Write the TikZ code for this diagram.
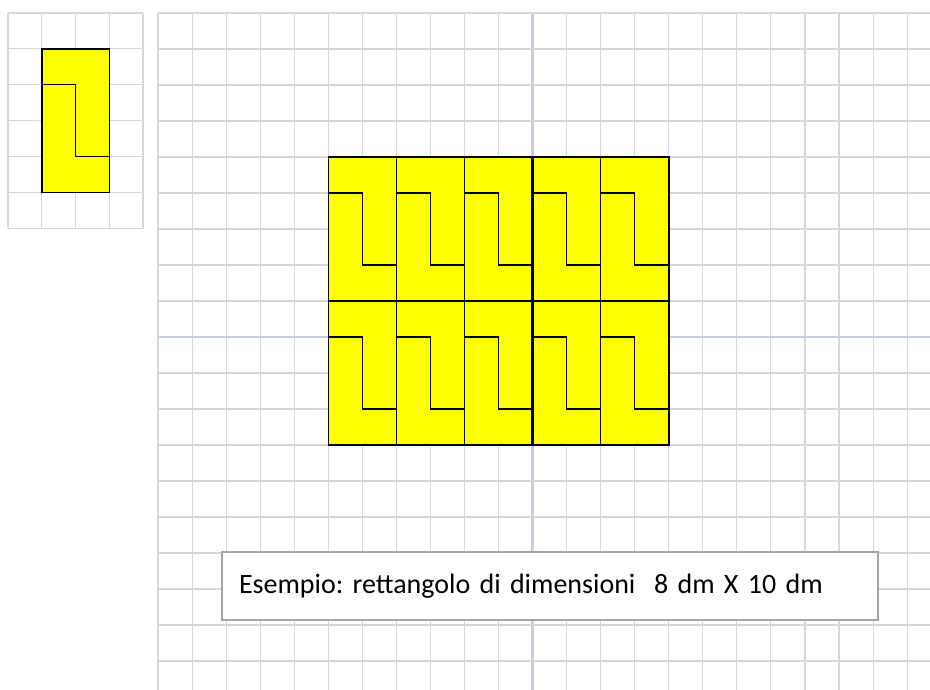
\documentclass[tikz,border=0pt]{standalone}
\usepackage{fontspec}
\setmainfont{Carlito}
\usepackage{tikz}
\usetikzlibrary{positioning}

\definecolor{gridgray}{RGB}{214,214,222}
\definecolor{axisgray}{RGB}{198,206,224}
\definecolor{tileyellow}{RGB}{255,255,0}
\definecolor{boxgray}{RGB}{165,165,165}

\tikzset{
	gridline/.style={draw=gridgray, line width=1.1pt},
	axisline/.style={draw=axisgray, line width=2.2pt},
	tile/.style={fill=tileyellow, draw=black, line width=1.5pt},
	cutline/.style={draw=black, line width=1.5pt},
	notebox/.style={draw=boxgray, line width=2.2pt, fill=white, minimum width=656pt, minimum height=68pt, text width=622pt, inner xsep=17pt, align=left, font=\fontsize{28}{32}\selectfont\frenchspacing}
}

\begin{document}
\begin{tikzpicture}[x=1pt, y=-1pt]
	
	\useasboundingbox (0,0) rectangle (930,689);
	\clip (0,0) rectangle (930,689);
	
	%//small grid, one 2x4 pair
	\begin{scope}[shift={(8,13)}, x=33.75pt, y=-35.85pt]
	\foreach \x in {0,1,2,3,4}
	\draw[gridline] (\x,0) -- (\x,6);
	\foreach \y in {0,1,2,3,4,5,6}
	\draw[gridline] (0,\y) -- (4,\y);
	
	\draw[tile] (1,1) rectangle (3,5);
	\draw[cutline] (1,2) -- (2,2) -- (2,4) -- (3,4);
	\end{scope}
	
	%//big grid, 5 x 2 pairs
	\begin{scope}[shift={(158,13)}, x=34.05pt, y=-36pt]
	\foreach \x in {0,...,23}
	\draw[gridline] (\x,0) -- (\x,19);
	\foreach \y in {0,...,18}
	\draw[gridline] (0,\y) -- (23,\y);
	
	\draw[axisline] (11,0) -- (11,19);
	\draw[axisline] (0,9) -- (23,9);
	
	\foreach \i in {0,1,2,3,4}
	\foreach \j in {0,1}
	{
		\draw[tile] (5+2*\i,4+4*\j) rectangle ++(2,4);
		\draw[cutline] (5+2*\i,5+4*\j) -- ++(1,0) -- ++(0,2) -- ++(1,0);
	}
	
	\draw[cutline, line width=2.2pt] (11,4) -- (11,12);
	\end{scope}
	
	\node[notebox] (caption) at (550,586) {Esempio: rettangolo di dimensioni \ 8 dm X 10 dm};
	
\end{tikzpicture}
\end{document}
